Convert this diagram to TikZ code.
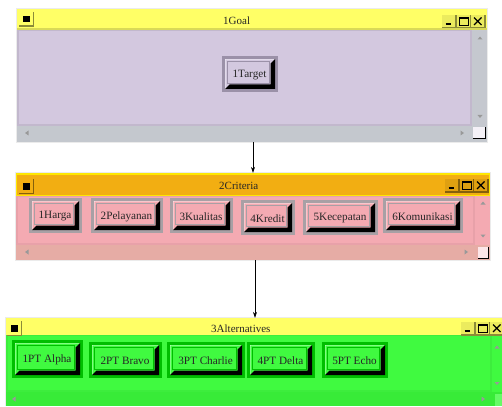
\documentclass[tikz,border=0pt]{standalone}
\usepackage{fontspec}
\setmainfont{Liberation Serif}
\usetikzlibrary{arrows.meta}
\definecolor{tyel}{RGB}{255,255,102}
\definecolor{torg}{RGB}{242,174,18}
\definecolor{lav}{RGB}{211,200,223}
\definecolor{lavscr}{RGB}{196,200,206}
\definecolor{lavfr}{RGB}{155,145,168}
\definecolor{pnk}{RGB}{244,170,178}
\definecolor{pnkscr}{RGB}{230,172,165}
\definecolor{pnkfr}{RGB}{168,160,165}
\definecolor{grn}{RGB}{64,250,64}
\definecolor{grnscr}{RGB}{56,235,56}
\definecolor{grnfr}{RGB}{0,190,0}
\tikzset{
  btntext/.style={inner sep=0pt, font=\fontsize{11.2}{12}\selectfont, text=black!85},
  wintitle/.style={inner sep=0pt, anchor=west, font=\fontsize{11}{12}\selectfont, text=black!85},
  winbox/.style={inner sep=0pt, draw=none},
  arr/.style={-{Stealth[length=6pt,width=4pt]}, line width=0.6pt},
  scr/.style={fill=black!40},
}
% button: name, x1, y1, x2, y2, text, frame colour, face colour
\newcommand\mybtn[8]{%
  \fill[#7] (#2,#3) rectangle (#4,#5);
  \fill[#8] (#2+3,#3+3) rectangle (#4-3,#5-3);
  \fill[white, opacity=0.35] (#2+3,#3+3) rectangle (#4-3,#3+4.2);
  \fill[white, opacity=0.35] (#2+3,#3+3) rectangle (#2+4.2,#5-3);
  \fill[black] (#4-3,#3+3) -- (#4-3,#5-3) -- (#2+3,#5-3) -- (#2+7.5,#5-7.5) -- (#4-7.5,#5-7.5) -- (#4-7.5,#3+7.5) -- cycle;
  \draw[#7, line width=0.8pt] (#2+5.5,#3+5.5) rectangle (#4-9,#5-9);
  \node[btntext] (#1) at ({(#2+#4)/2-0.5},{(#3+#5)/2+1}) {#6};
}
% left title box: x, y, colour
\newcommand\leftbox[3]{%
  \fill[#3!55!black] (#1,#2) rectangle (#1+15,#2+15);
  \fill[#3] (#1,#2) rectangle (#1+13.5,#2+13.5);
  \fill[black] (#1+4,#2+4) rectangle (#1+10.5,#2+10.5);
}
% right title boxes: x, y, colour
\newcommand\rightboxes[3]{%
  \foreach \i in {0,1,2} {
    \fill[#3!55!black] (#1+14.5*\i,#2) rectangle (#1+14.5*\i+14.5,#2+13.5);
    \fill[#3!92!black] (#1+14.5*\i,#2) rectangle (#1+14.5*\i+13,#2+12);
  }
  \draw[line width=1.6pt] (#1+3.5,#2+9) -- (#1+9,#2+9);
  \draw[line width=0.9pt] (#1+17.5,#2+2.5) rectangle (#1+26,#2+10);
  \draw[line width=1.8pt] (#1+17.5,#2+2.8) -- (#1+26,#2+2.8);
  \draw[line width=1.3pt] (#1+32,#2+2.5) -- (#1+39.5,#2+10) (#1+32,#2+10) -- (#1+39.5,#2+2.5);
}
\begin{document}
\begin{tikzpicture}[x=1pt,y=-1pt]
\useasboundingbox (0,0) rectangle (502,406);
\fill[white] (0,0) rectangle (502,406);

% ---------------- window 1 ----------------
\node[winbox, minimum width=470pt, minimum height=133pt] (w1) at (252,75.5) {};
\fill[black!8] (16,8) rectangle (488,143);
\fill[tyel!85!black] (17,9) rectangle (487,30);
\fill[tyel] (17,9) rectangle (487,28.5);
\fill[lav!92!black] (17,30) rectangle (472,126);
\fill[lav] (19,31) rectangle (470,124);
\fill[lavscr] (17,126) rectangle (487,142);
\fill[lavscr!96!lav] (472,30) rectangle (487,126);
\fill[white!75!lav] (473,127) rectangle (485,138);
\draw[line width=1pt] (473,138) -- (485,138) -- (485,127);
\fill[scr] (25,133) -- (28.5,130.5) -- (28.5,135.5) -- cycle;
\fill[scr] (464,133) -- (460.5,130.5) -- (460.5,135.5) -- cycle;
\fill[scr] (480,36.5) -- (477.5,39.5) -- (482.5,39.5) -- cycle;
\fill[scr] (480,118) -- (477.5,115) -- (482.5,115) -- cycle;
\leftbox{19}{12}{tyel}
\rightboxes{442}{15}{tyel}
\node[wintitle] (t1) at (223,20.5) {1Goal};
\mybtn{target}{222}{56}{278}{92}{1Target}{lavfr}{lav}

% ---------------- window 2 ----------------
\node[winbox, minimum width=474pt, minimum height=87pt] (w2) at (253,216.5) {};
\fill[black!8] (15,172) rectangle (491,261);
\fill[yellow!90!orange] (16,173) rectangle (490,196);
\fill[torg] (17,174.5) rectangle (489,194.5);
\fill[pnk!95!black] (16,196) rectangle (475,245);
\fill[pnk] (18,197) rectangle (473,243);
\fill[pnkscr] (16,245) rectangle (490,260);
\fill[pnk] (475,196) rectangle (490,245);
\fill[white!70!pnk] (478,247) rectangle (488,258);
\draw[line width=1pt] (478,258) -- (488,258) -- (488,247);
\fill[scr] (25,252) -- (28.5,249.5) -- (28.5,254.5) -- cycle;
\fill[scr] (468,252) -- (464.5,249.5) -- (464.5,254.5) -- cycle;
\fill[scr] (483,201.5) -- (480.5,204.5) -- (485.5,204.5) -- cycle;
\fill[scr] (483,237.5) -- (480.5,234.5) -- (485.5,234.5) -- cycle;
\leftbox{19}{179}{torg}
\rightboxes{445}{179}{torg}
\node[wintitle] (t2) at (219,186) {2Criteria};
\mybtn{harga}{29}{198}{82}{233}{1Harga}{pnkfr}{pnk}
\mybtn{pelayanan}{91}{198}{163}{233}{2Pelayanan}{pnkfr}{pnk}
\mybtn{kualitas}{170}{198}{233}{233}{3Kualitas}{pnkfr}{pnk}
\mybtn{kredit}{241}{200}{295}{235}{4Kredit}{pnkfr}{pnk}
\mybtn{kecepatan}{303}{200}{378}{235}{5Kecepatan}{pnkfr}{pnk}
\mybtn{komunikasi}{383}{198}{463}{233}{6Komunikasi}{pnkfr}{pnk}

% ---------------- window 3 ----------------
\node[winbox, minimum width=496pt, minimum height=88pt] (w3) at (254,362) {};
\fill[black!8] (5,317) rectangle (502,406);
\fill[tyel] (6,318) rectangle (502,335);
\fill[grn!95!black] (6,335) rectangle (492,392);
\fill[grn] (8,336) rectangle (490,390);
\fill[grnscr] (6,392) rectangle (502,406);
\fill[grn] (492,335) rectangle (502,392);
\fill[grn!80!white] (495,394) rectangle (502,406);
\fill[scr] (12,399) -- (15.5,396.5) -- (15.5,401.5) -- cycle;
\fill[scr] (485,399) -- (481.5,396.5) -- (481.5,401.5) -- cycle;
\fill[scr] (497,345.5) -- (494.5,348.5) -- (499.5,348.5) -- cycle;
\fill[scr] (497,385) -- (494.5,382) -- (499.5,382) -- cycle;
\leftbox{7}{321}{tyel}
\rightboxes{461}{322}{tyel}
\node[wintitle] (t3) at (211,329) {3Alternatives};
\mybtn{alpha}{12}{340}{83}{378}{1PT Alpha}{grnfr}{grn}
\mybtn{bravo}{89}{342}{162}{378}{2PT Bravo}{grnfr}{grn}
\mybtn{charlie}{167}{342}{245}{378}{3PT Charlie}{grnfr}{grn}
\mybtn{delta}{247}{342}{315}{378}{4PT Delta}{grnfr}{grn}
\mybtn{echo}{322}{342}{388}{378}{5PT Echo}{grnfr}{grn}

% ---------------- connectors ----------------
\draw[arr] ([xshift=1pt]w1.south) -- ([xshift=1pt]w1.south |- w2.north);
\draw[arr] ([xshift=2pt]w2.south) -- ([xshift=2pt]w2.south |- w3.north);
\end{tikzpicture}
\end{document}
